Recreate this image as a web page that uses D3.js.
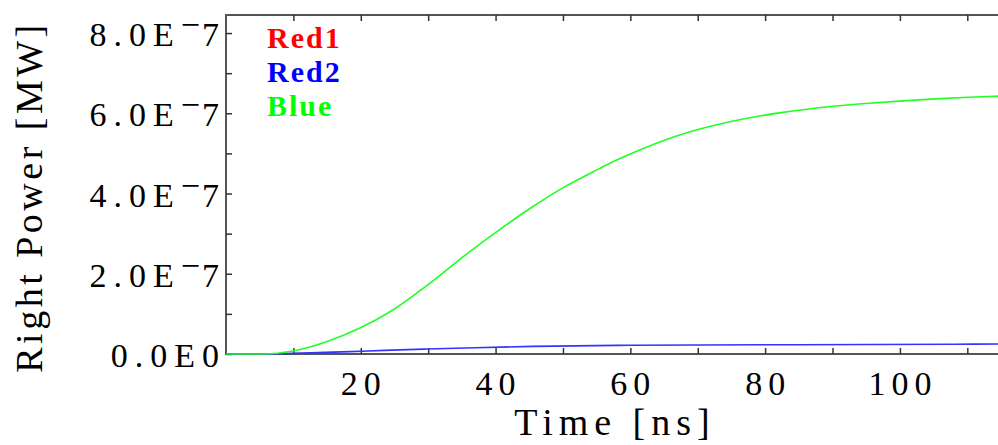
<!DOCTYPE html>
<html>
<head>
<meta charset="utf-8">
<script src="https://cdn.jsdelivr.net/npm/d3@7"></script>
<style type="text/css">
    body{ margin: 0; padding: 0; background-color: #FFFFFF; }
    text{ font-family: "Liberation Serif", "DejaVu Serif", serif; fill: #000; }
</style>
</head>
<body>
<div id="chart"></div>
<script>
// green curve ("Blue"), time in ns, power in MW
var blueTime = [0, 5.6, 9.9, 14.8, 19.8, 24.7, 29.6, 35.7, 40.6, 45.5, 50.5, 55.4, 57.4, 62.3, 67.3, 72.2, 77.1, 82.1, 85.6, 90.5, 95.4, 100.4, 105.3, 110.2, 115];
var bluePower = [0, 0, 0.074e-7, 0.30e-7, 0.64e-7, 1.09e-7, 1.68e-7, 2.49e-7, 3.10e-7, 3.67e-7, 4.19e-7, 4.62e-7, 4.79e-7, 5.15e-7, 5.46e-7, 5.69e-7, 5.87e-7, 6.01e-7, 6.09e-7, 6.18e-7, 6.25e-7, 6.31e-7, 6.36e-7, 6.40e-7, 6.43e-7];

// blue curve ("Red2")
var red2Time = [0, 5.6, 8.6, 12.6, 18.4, 23.5, 29.8, 37, 45.5, 60, 85, 108, 115];
var red2Power = [0, 0, 0.1e-8, 0.3e-8, 0.58e-8, 0.9e-8, 1.23e-8, 1.57e-8, 1.89e-8, 2.17e-8, 2.32e-8, 2.42e-8, 2.5e-8];

var legendNames = ["Red1", "Red2", "Blue"];
var legendColors = ["#ff0000", "#0000ff", "#00ff00"];

var xTicks = [10, 20, 30, 40, 50, 60, 70, 80, 90, 100, 110];
var xLabels = [20, 40, 60, 80, 100];
var yTicks = [0, 1e-7, 2e-7, 3e-7, 4e-7, 5e-7, 6e-7, 7e-7, 8e-7];
var yLabelVals = [0, 2e-7, 4e-7, 6e-7, 8e-7];
var yLabelMant = ["0.0E", "2.0E", "4.0E", "6.0E", "8.0E"];
var yLabelExp = ["0", "-7", "-7", "-7", "-7"];

var width = 998, height = 445;
var plotL = 226, plotT = 15, plotR = 1001, plotB = 354;

var svg = d3.select("#chart").append("svg")
    .attr("width", width)
    .attr("height", height);

var x = d3.scaleLinear().domain([0, 115]).range([plotL, plotR]);
var y = d3.scaleLinear().domain([0, 8.45e-7]).range([plotB, plotT]);

// frame lines
svg.append("line").attr("x1", plotL).attr("y1", plotT).attr("x2", width).attr("y2", plotT)
    .attr("stroke", "#555").attr("stroke-width", 2);
svg.append("line").attr("x1", plotL).attr("y1", plotT - 1).attr("x2", plotL).attr("y2", plotB + 1)
    .attr("stroke", "#555").attr("stroke-width", 2);
svg.append("line").attr("x1", plotL).attr("y1", plotB).attr("x2", width).attr("y2", plotB)
    .attr("stroke", "#555").attr("stroke-width", 2);

// ticks, pointing inside
var bottomAxis = svg.append("g").attr("transform", "translate(0," + plotB + ")")
    .call(d3.axisBottom(x).tickValues(xTicks).tickSize(-6).tickFormat(""));
var topAxis = svg.append("g").attr("transform", "translate(0," + plotT + ")")
    .call(d3.axisTop(x).tickValues(xTicks).tickSize(-6).tickFormat(""));
var leftAxis = svg.append("g").attr("transform", "translate(" + plotL + ",0)")
    .call(d3.axisLeft(y).tickValues(yTicks).tickSize(-6).tickFormat(""));
[bottomAxis, topAxis, leftAxis].forEach(function(g) {
    g.select(".domain").remove();
    g.selectAll(".tick line").attr("stroke", "#333").attr("stroke-width", 1.5);
});

// x tick labels
svg.selectAll(".xlab").data(xLabels).enter().append("text")
    .attr("class", "xlab")
    .attr("x", function(d) { return x(d) + 3; })
    .attr("y", plotB + 41)
    .attr("text-anchor", "middle")
    .style("font-size", "34px")
    .style("letter-spacing", "6px")
    .text(function(d) { return d; });

// y tick labels
yLabelVals.forEach(function(v, i) {
    var t = svg.append("text")
        .attr("x", plotL)
        .attr("y", y(v) + 13)
        .attr("text-anchor", "end")
        .style("font-size", "34px")
        .style("letter-spacing", "7px");
    t.append("tspan").text(yLabelMant[i]);
    if (yLabelExp[i].charAt(0) == "-") {
        t.append("tspan").attr("dy", -10)
            .style("letter-spacing", "2px").text("\u2212");
        t.append("tspan").attr("dy", 10).text(yLabelExp[i].substr(1));
    } else {
        t.append("tspan").text(yLabelExp[i]);
    }
});

// axis titles
svg.append("text")
    .attr("x", 615)
    .attr("y", 435)
    .attr("text-anchor", "middle")
    .style("font-size", "38px")
    .style("letter-spacing", "6px")
    .text("Time [ns]");

svg.append("text")
    .attr("transform", "translate(42,197) rotate(-90)")
    .attr("text-anchor", "middle")
    .style("font-size", "38px")
    .style("letter-spacing", "3.5px")
    .text("Right Power [MW]");

// curves
var line = d3.line()
    .x(function(d) { return x(d[0]); })
    .y(function(d) { return y(d[1]); })
    .curve(d3.curveMonotoneX);

svg.append("path")
    .datum(d3.zip(red2Time, red2Power))
    .attr("d", line)
    .attr("fill", "none")
    .attr("stroke", "#3333ff")
    .attr("stroke-width", 1.6);

svg.append("path")
    .datum(d3.zip(blueTime, bluePower))
    .attr("d", line)
    .attr("fill", "none")
    .attr("stroke", "#22ff22")
    .attr("stroke-width", 1.6);

// legend
svg.selectAll(".leg").data(legendNames).enter().append("text")
    .attr("class", "leg")
    .attr("x", 267)
    .attr("y", function(d, i) { return 48 + i * 34; })
    .style("font-size", "30px")
    .style("font-weight", "bold")
    .style("letter-spacing", "2px")
    .style("fill", function(d, i) { return legendColors[i]; })
    .text(function(d) { return d; });
</script>
</body>
</html>
